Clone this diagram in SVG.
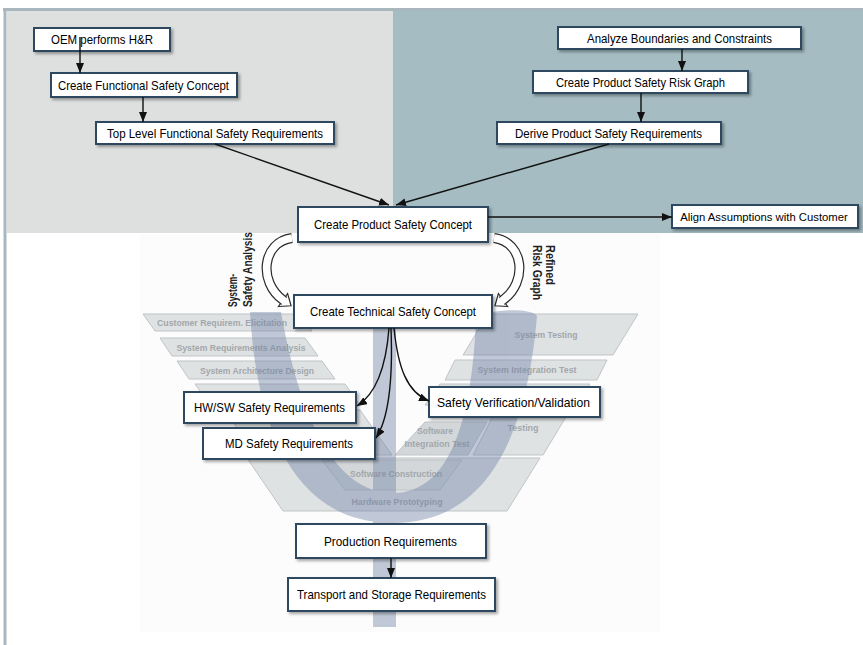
<svg xmlns="http://www.w3.org/2000/svg" width="863" height="645" viewBox="0 0 863 645">
<defs>
<style>
.box{fill:#ffffff;stroke:#2e4a5f;stroke-width:2;filter:url(#sh)}
.n{font-family:"Liberation Sans Narrow","Liberation Sans",Arial,sans-serif;font-size:13px;fill:#000000;text-anchor:middle}
.v{font-family:"Liberation Sans Narrow","Liberation Sans",Arial,sans-serif;font-size:9.5px;font-weight:bold;fill:#a2a7ab;text-anchor:middle}
.stage{fill:#dfe2e3;stroke:#bfc4c7;stroke-width:1}
.stage2{fill:#d3d7d9;stroke:#bfc4c7;stroke-width:1}
.r{font-family:"Liberation Sans Narrow","Liberation Sans",Arial,sans-serif;font-size:12px;font-weight:bold;fill:#222}
.fat-o{fill:none;stroke:#2a2a2a;stroke-width:10}
.fat-i{fill:none;stroke:#ffffff;stroke-width:7.6}
.fat-h{fill:#ffffff;stroke:#2a2a2a;stroke-width:1.2;stroke-linejoin:miter}
</style>
<filter id="sh" x="-10%" y="-30%" width="125%" height="170%">
<feDropShadow dx="2" dy="2" stdDeviation="1.5" flood-color="#000" flood-opacity="0.35"/>
</filter>
<marker id="ah" viewBox="0 0 10 8" refX="10" refY="4" markerWidth="10" markerHeight="8" markerUnits="userSpaceOnUse" orient="auto">
<path d="M0,0 L10,4 L0,8 Z" fill="#111"/>
</marker>
</defs>

<!-- background -->
<rect x="0" y="0" width="863" height="645" fill="#ffffff"/>
<rect x="7" y="11" width="386" height="222" fill="#dee0e0"/>
<rect x="393" y="11" width="470" height="222" fill="#a4bcc2"/>
<line x1="3" y1="9.5" x2="863" y2="9.5" stroke="#a9b6be" stroke-width="3"/>
<line x1="5" y1="9" x2="5" y2="645" stroke="#a9b6be" stroke-width="3"/>
<rect x="140" y="234" width="520" height="398" fill="#fcfcfc"/>

<!-- V-model stages -->
<g id="vmodel">
<polygon class="stage" points="143,314 300,314 312,331 155,331"/>
<text class="v" x="222" y="326" textLength="130" lengthAdjust="spacingAndGlyphs">Customer Requirem. Elicitation</text>
<polygon class="stage" points="160,338 305,338 318,356 172,356"/>
<text class="v" x="241" y="351" textLength="129" lengthAdjust="spacingAndGlyphs">System Requirements Analysis</text>
<polygon class="stage" points="177,361 322,361 335,379 189,379"/>
<text class="v" x="257" y="374" textLength="114" lengthAdjust="spacingAndGlyphs">System Architecture Design</text>
<polygon class="stage" points="195,384 345,384 360,405 210,405"/>
<polygon class="stage" points="225,410 360,410 392,455 255,455"/>
<polygon class="stage" points="247,458 540,458 507,511 283,511"/>
<polygon class="stage2" points="322,460 462,460 440,490 345,490"/>
<text class="v" x="396" y="477" textLength="92" lengthAdjust="spacingAndGlyphs">Software Construction</text>
<text class="v" x="397" y="505" textLength="91" lengthAdjust="spacingAndGlyphs">Hardware Prototyping</text>
<polygon class="stage" points="488,314 638,314 613,355 463,355"/>
<text class="v" x="546" y="338" textLength="63" lengthAdjust="spacingAndGlyphs">System Testing</text>
<polygon class="stage" points="455,360 607,360 597,380 445,380"/>
<text class="v" x="527" y="373" textLength="99" lengthAdjust="spacingAndGlyphs">System Integration Test</text>
<polygon class="stage" points="440,384 590,384 575,405 425,405"/>
<polygon class="stage2" points="425,422 487,422 468,455 395,455"/>
<text class="v" x="435" y="434" textLength="36" lengthAdjust="spacingAndGlyphs">Software</text>
<text class="v" x="437" y="447" textLength="65" lengthAdjust="spacingAndGlyphs">Integration Test</text>
<polygon class="stage" points="500,402 575,402 543,455 473,455"/>
<text class="v" x="523" y="431" textLength="31" lengthAdjust="spacingAndGlyphs">Testing</text>
</g>

<!-- psi symbol -->
<g id="psi" opacity="0.42" fill="#6f82a6">
<path d="M250,312 C256,420 290,523 393,523 C496,523 528,420 537,316 C533,308 490,308 476,318 C472,420 450,493 393,493 C336,493 300,420 281,312 Z"/>
<rect x="373" y="300" width="23" height="327"/>
</g>

<!-- fat curved arrows -->
<g id="fat-left">
<polygon class="fat-h" points="278.4,306.5 291.1,305.8 287.6,293.5"/>
<path class="fat-o" d="M292,238 C262,242 258,282 283,300 L284.2,300.9"/>
<path class="fat-i" d="M292,238 C262,242 258,282 283,300 L284.6,301.2"/>
</g>
<g id="fat-right" transform="translate(786,0) scale(-1,1)">
<polygon class="fat-h" points="278.4,306.5 291.1,305.8 287.6,293.5"/>
<path class="fat-o" d="M292,238 C262,242 258,282 283,300 L284.2,300.9"/>
<path class="fat-i" d="M292,238 C262,242 258,282 283,300 L284.6,301.2"/>
</g>

<!-- nodes -->
<g id="n-oem"><rect class="box" x="34" y="28" width="136" height="23"/><text class="n" x="102" y="44" textLength="102" lengthAdjust="spacingAndGlyphs">OEM performs H&amp;R</text></g>
<g id="n-cfsc"><rect class="box" x="51" y="73" width="186" height="24"/><text class="n" x="143.5" y="89.5" textLength="171" lengthAdjust="spacingAndGlyphs">Create Functional Safety Concept</text></g>
<g id="n-tlfsr"><rect class="box" x="96" y="122" width="238" height="22"/><text class="n" x="215" y="137.5" textLength="216" lengthAdjust="spacingAndGlyphs">Top Level Functional Safety Requirements</text></g>
<g id="n-abc"><rect class="box" x="558" y="27" width="243" height="22"/><text class="n" x="679.5" y="42.5" textLength="185" lengthAdjust="spacingAndGlyphs">Analyze Boundaries and Constraints</text></g>
<g id="n-cpsrg"><rect class="box" x="533" y="71" width="215" height="22"/><text class="n" x="640.5" y="86.5" textLength="169" lengthAdjust="spacingAndGlyphs">Create Product Safety Risk Graph</text></g>
<g id="n-dpsr"><rect class="box" x="497" y="122" width="224" height="22"/><text class="n" x="608.5" y="137.5" textLength="187" lengthAdjust="spacingAndGlyphs">Derive Product Safety Requirements</text></g>
<g id="n-align"><rect class="box" x="672" y="205" width="186" height="23"/><text class="n" x="764" y="220.5" style="font-size:11.3px">Align Assumptions with Customer</text></g>
<g id="n-cpsc"><rect class="box" x="298" y="207" width="190" height="35"/><text class="n" x="393" y="229" textLength="158" lengthAdjust="spacingAndGlyphs">Create Product Safety Concept</text></g>
<g id="n-ctsc"><rect class="box" x="294" y="295" width="198" height="33"/><text class="n" x="393" y="316" textLength="166" lengthAdjust="spacingAndGlyphs">Create Technical Safety Concept</text></g>
<g id="n-hwsw"><rect class="box" x="184" y="392" width="172" height="31"/><text class="n" x="269.5" y="412" textLength="151" lengthAdjust="spacingAndGlyphs">HW/SW Safety Requirements</text></g>
<g id="n-md"><rect class="box" x="203" y="428" width="172" height="31"/><text class="n" x="289" y="448" textLength="128" lengthAdjust="spacingAndGlyphs">MD Safety Requirements</text></g>
<g id="n-svv"><rect class="box" x="429" y="387" width="171" height="30"/><text class="n" x="513.5" y="406.5" textLength="153" lengthAdjust="spacingAndGlyphs">Safety Verification/Validation</text></g>
<g id="n-prod"><rect class="box" x="296" y="524" width="190" height="34"/><text class="n" x="390.5" y="545.5" textLength="133" lengthAdjust="spacingAndGlyphs">Production Requirements</text></g>
<g id="n-trans"><rect class="box" x="288" y="578" width="207" height="33"/><text class="n" x="391.5" y="599" textLength="189" lengthAdjust="spacingAndGlyphs">Transport and Storage Requirements</text></g>

<!-- connectors -->
<g id="connectors" fill="none" stroke="#111" stroke-width="1.4" marker-end="url(#ah)">
<path d="M80,37 V73"/>
<path d="M143,97 V122"/>
<path d="M215,144 L389,205"/>
<path d="M609,144 L396,205"/>
<path d="M682,49 V71"/>
<path d="M641,93 V122"/>
<path d="M488,217 H672"/>
<path d="M389,328 C386,368 376,394 357,406"/>
<path d="M391,328 C393,380 389,418 376,438"/>
<path d="M394,328 C398,368 407,392 429,401"/>
<path d="M391,558 V578"/>
</g>

<!-- rotated labels -->
<g id="labels">
<text class="r" transform="translate(237,307) rotate(-90)" textLength="33" lengthAdjust="spacingAndGlyphs">System-</text>
<text class="r" transform="translate(252,307) rotate(-90)" textLength="75" lengthAdjust="spacingAndGlyphs">Safety Analysis</text>
<text class="r" transform="translate(546,245) rotate(90)" textLength="40" lengthAdjust="spacingAndGlyphs">Refined</text>
<text class="r" transform="translate(533,245) rotate(90)" textLength="55" lengthAdjust="spacingAndGlyphs">Risk Graph</text>
</g>
</svg>
